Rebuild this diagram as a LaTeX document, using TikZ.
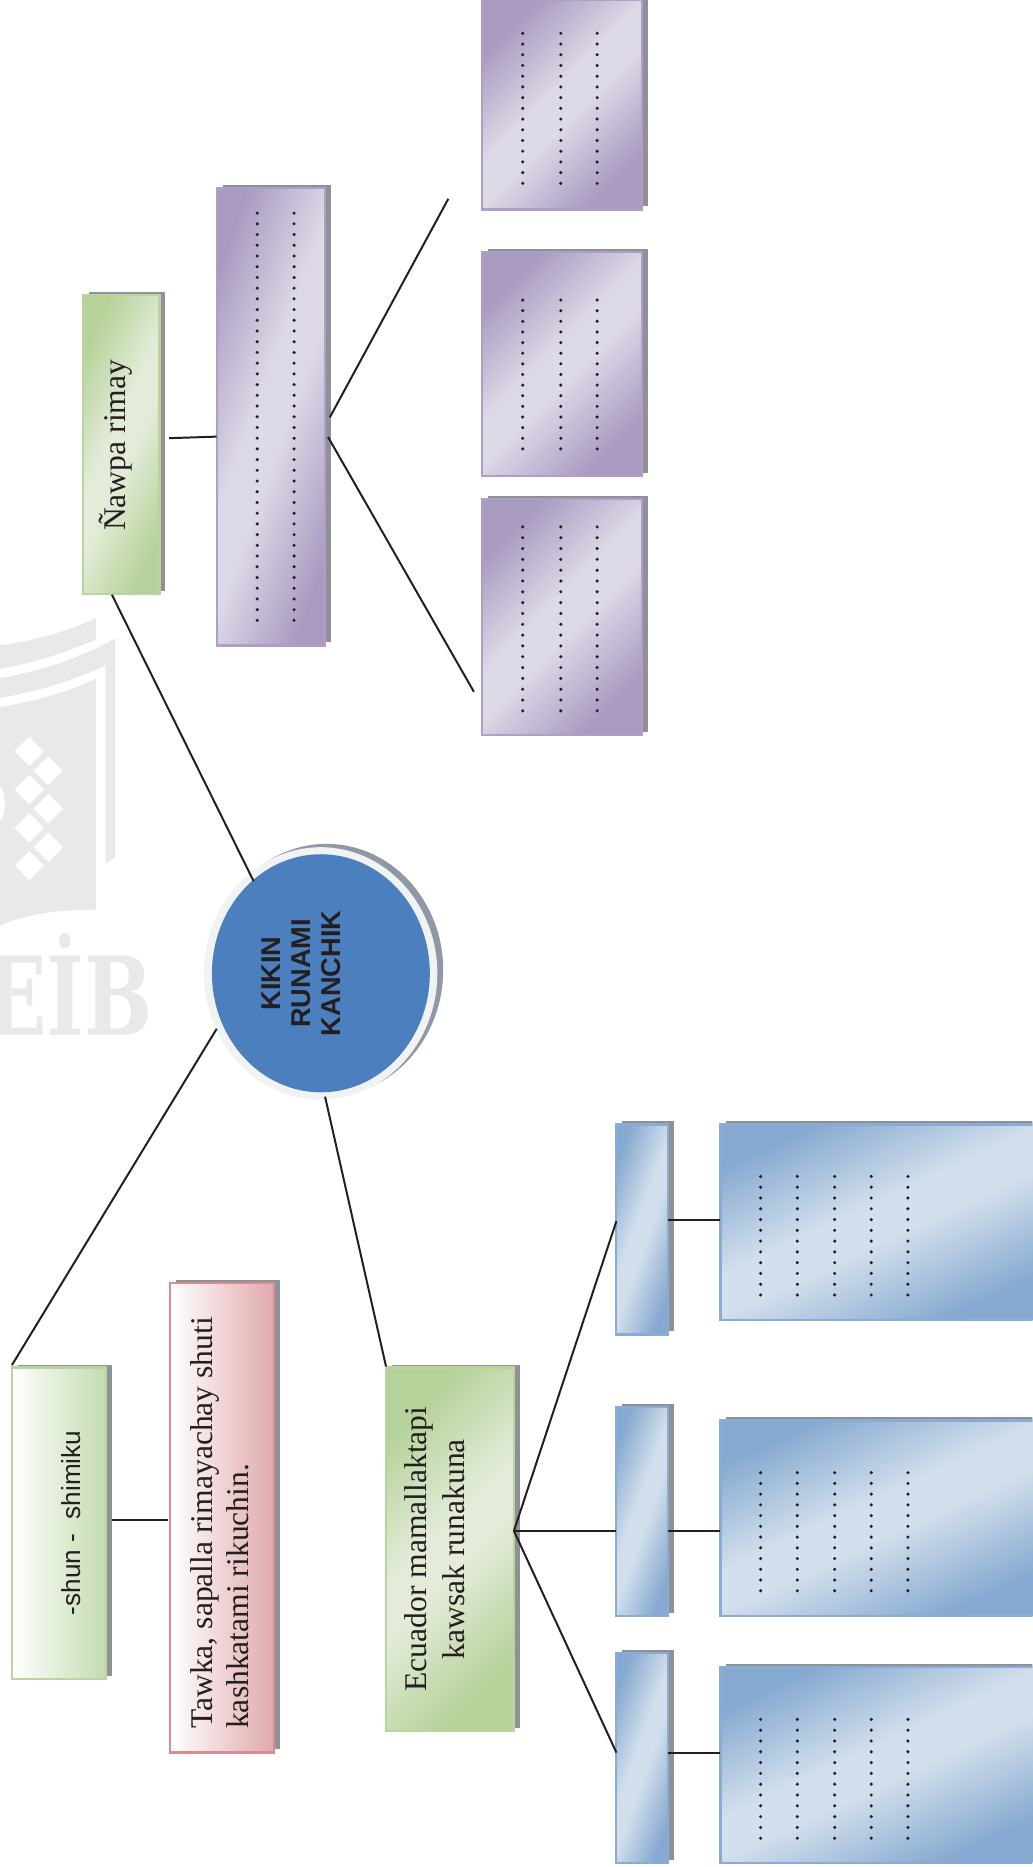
\documentclass[tikz,border=0pt]{standalone}
\usepackage{fontspec}
\setmainfont{Liberation Serif}
\setsansfont{Liberation Sans}
\newfontfamily\wmfont{DejaVu Serif}
\usetikzlibrary{shadows,shapes.geometric}
\definecolor{inkc}{HTML}{231F20}
\definecolor{wmark}{HTML}{E8E9EB}
\definecolor{shadowc}{HTML}{8F9196}
\definecolor{ringshadow}{HTML}{8F98A5}
\definecolor{purd}{HTML}{A99AC1}
\definecolor{purl}{HTML}{DED9E7}
\definecolor{purb}{HTML}{AE9FC9}
\definecolor{blud}{HTML}{85A9D0}
\definecolor{blul}{HTML}{D2DFEC}
\definecolor{blub}{HTML}{88ACD6}
\definecolor{grnd}{HTML}{B6D29A}
\definecolor{grnl}{HTML}{E4ECD9}
\definecolor{grnb}{HTML}{B9D59F}
\definecolor{pnkd}{HTML}{E0A9AC}
\definecolor{pnkb}{HTML}{D68C90}
\definecolor{ringc}{HTML}{F1F2F4}
\definecolor{bluec}{HTML}{4C7FBE}
\pgfdeclareverticalshading{purpleband}{100bp}{color(0bp)=(purd);color(25bp)=(purd);color(46bp)=(purl);color(54bp)=(purl);color(75bp)=(purd);color(100bp)=(purd)}
\pgfdeclareverticalshading{blueband}{100bp}{color(0bp)=(blud);color(25bp)=(blud);color(46bp)=(blul);color(54bp)=(blul);color(75bp)=(blud);color(100bp)=(blud)}
\pgfdeclareverticalshading{greenband}{100bp}{color(0bp)=(grnd);color(25bp)=(grnd);color(46bp)=(grnl);color(54bp)=(grnl);color(75bp)=(grnd);color(100bp)=(grnd)}
\tikzset{
  basebox/.style={rectangle,inner sep=0pt,outer sep=0pt,line width=1.1pt,
     general shadow={fill=shadowc,shadow xshift=2.8pt,shadow yshift=1.5pt}},
  purplediag/.style={basebox,draw=purb,shade,shading=purpleband,shading angle=#1},
  bluediag/.style={basebox,draw=blub,shade,shading=blueband,shading angle=#1},
  greendiag/.style={basebox,draw=grnb,shade,shading=greenband,shading angle=#1},
  greenfade/.style={basebox,draw=grnb,left color=white,right color=grnd!80!white},
  pinkfade/.style={basebox,draw=pnkb,left color=white,right color=pnkd},
  conn/.style={draw=inkc,line width=0.95pt},
  serifnote/.style={rotate=90,text=inkc,font=\fontsize{15.1}{17.5}\selectfont,inner sep=0pt},
  dotmark/.style={fill=inkc,draw=none},
  wmshape/.style={fill=wmark,draw=none}
}
\newcommand\mybox[6]{%
  \pgfmathsetmacro\bw{(#5-#3-2)*0.02}%
  \pgfmathsetmacro\bh{(#6-#4-2)*0.02}%
  \pgfmathsetmacro\bx{(#3+#5)/2}%
  \pgfmathsetmacro\by{(#4+#6)/2}%
  \node[#1,minimum width=\bw cm,minimum height=\bh cm] (#2) at (\bx,\by) {};}
\newcommand\dotcol[4]{%
  \foreach \dn in {0,...,#4}{%
    \pgfmathsetmacro\dy{#2+(#3-#2)*\dn/#4}%
    \fill[dotmark] (#1,\dy) circle[radius=0.029cm];}}
\begin{document}
\begin{tikzpicture}[x=0.02cm,y=-0.02cm]
\clip (0,0) rectangle (867,1568);
\fill[white] (0,0) rectangle (867,1568);
% watermark
\fill[wmshape] (0,542) .. controls (30,538) and (58,530) .. (80.6,518.8) -- (80.6,537.2) .. controls (55,548) and (28,557) .. (0,561.6) -- cycle;
\fill[wmshape] (0,569.2) .. controls (35,564) and (68,552) .. (96.6,536.4) -- (96.6,720.4) -- (88.5,725.4) -- (88.5,558.8) .. controls (62,571) and (32,581) .. (0,586) -- cycle;
\fill[wmshape] (0,593.8) .. controls (30,589) and (58,581) .. (80.6,570) -- (80.6,764) .. controls (50,764) and (25,767) .. (0,777.2) -- cycle;
\fill[white] (0,675) ellipse[x radius=4,y radius=14];
\foreach \dx/\dy in {24.6/631,40.6/647.3,24.6/663.2,40.6/679.2,24.6/695.2,40.6/711.4,24.6/727}{
  \fill[white] (\dx-12.3,\dy) -- (\dx,\dy-12.3) -- (\dx+12.3,\dy) -- (\dx,\dy+12.3) -- cycle;}
\node[anchor=base east,inner sep=0pt,text=wmark,xscale=0.74,font=\wmfont\bfseries\fontsize{52}{52}\selectfont] (wm) at (128,869.6) {EİB};
% boxes
\mybox{greendiag=65}{nawpa}{69}{247}{135}{500}
\mybox{purplediag=70}{ptall}{181}{157}{274}{543}
\mybox{purplediag=45}{pa}{404}{-1}{540}{177}
\mybox{purplediag=45}{pb}{404}{210.6}{540}{400.6}
\mybox{purplediag=45}{pc}{404}{418}{540}{618}
\mybox{greenfade}{shun}{9.2}{1147.6}{90}{1411}
\mybox{pinkfade}{pink}{142}{1076.5}{231}{1472.7}
\mybox{greendiag=45}{ecu}{323.4}{1147.6}{432.7}{1454.6}
\mybox{bluediag=70}{sa}{516.5}{943.3}{562}{1121.7}
\mybox{bluediag=70}{sb}{516.5}{1180.5}{562}{1358.4}
\mybox{bluediag=70}{sc}{516.5}{1387.2}{562}{1565.5}
\mybox{bluediag=25}{ba}{604}{943.3}{872}{1109.8}
\mybox{bluediag=25}{bb}{604}{1192}{872}{1358.4}
\mybox{bluediag=25}{bc}{604}{1399}{872}{1565.5}
% central circle
\node[ellipse,inner sep=0pt,outer sep=0pt,fill=ringc,minimum width=3.92cm,minimum height=4.24cm,
  general shadow={fill=ringshadow,shadow xshift=2.8pt,shadow yshift=1.6pt}] (ring) at (269.3,817.5) {};
\node[ellipse,inner sep=0pt,outer sep=0pt,fill=bluec,minimum width=3.66cm,minimum height=4cm] (core) at (269.5,817.4) {};
\node[rotate=90,inner sep=0pt,align=center,text=inkc,font=\sffamily\bfseries\fontsize{13}{14.5}\selectfont] (title) at (253,817.5) {KIKIN\\RUNAMI\\KANCHIK};
% labels
\node[serifnote] (tnawpa) at (97,374) {Ñawpa rimay};
\node[rotate=90,inner sep=0pt,text=inkc,font=\sffamily\fontsize{12.5}{14}\selectfont] (tshun) at (60,1279) {-shun -\ \ shimiku};
\node[serifnote,align=left] (tpink) at (184.5,1279) {Tawka, sapalla rimayachay shuti\\kashkatami rikuchin.};
\node[serifnote,align=center,font=\fontsize{15.1}{18.2}\selectfont] (tecu) at (365,1301) {Ecuador mamallaktapi\\kawsak runakuna};
% dotted answer lines
\dotcol{216}{179}{521}{38}\dotcol{247}{179}{521}{38}
\foreach \cx in {439,471,501.5}{
  \dotcol{\cx}{28}{154}{14}
  \dotcol{\cx}{252}{377}{14}
  \dotcol{\cx}{442.5}{597}{17}}
\foreach \cx in {638.8,669.6,701,731.7,762.5}{
  \dotcol{\cx}{988}{1087.6}{11}
  \dotcol{\cx}{1236.8}{1336}{11}
  \dotcol{\cx}{1444}{1543.8}{11}}
% connector ends
\coordinate (nawpaS) at (94,499.5);
\coordinate (ringNW) at (213,740);
\coordinate (ringSW) at (182,864);
\coordinate (shunNW) at (10,1146.5);
\coordinate (ringS) at (273,921);
\coordinate (ecuN) at (324.2,1147.6);
\coordinate (nawpaE) at (142,368);
\coordinate (ptallW) at (182,366.7);
\coordinate (ptallEa) at (277,350.5);
\coordinate (ptallEb) at (275.5,367);
\coordinate (paEnd) at (376.5,167);
\coordinate (pcEnd) at (398,581);
\coordinate (shunE) at (94,1276.2);
\coordinate (pinkW) at (140.8,1276.2);
\coordinate (ecuE) at (431.6,1285.7);
\coordinate (saW) at (517.7,1025.5);
\coordinate (sbW) at (517.7,1285.7);
\coordinate (scW) at (517.7,1471.9);
\coordinate (saE) at (561,1024.7);
\coordinate (baW) at (605,1024.7);
\coordinate (sbE) at (561,1285.7);
\coordinate (bbW) at (605,1285.7);
\coordinate (scE) at (561,1472);
\coordinate (bcW) at (605,1472);
\draw[conn] (nawpaS) -- (ringNW);
\draw[conn] (ringSW) -- (shunNW);
\draw[conn] (ringS) -- (ecuN);
\draw[conn] (nawpaE) -- (ptallW);
\draw[conn] (ptallEa) -- (paEnd);
\draw[conn] (ptallEb) -- (pcEnd);
\draw[conn] (shunE) -- (pinkW);
\draw[conn] (ecuE) -- (saW);
\draw[conn] (ecuE) -- (sbW);
\draw[conn] (ecuE) -- (scW);
\draw[conn] (saE) -- (baW);
\draw[conn] (sbE) -- (bbW);
\draw[conn] (scE) -- (bcW);
\end{tikzpicture}
\end{document}
